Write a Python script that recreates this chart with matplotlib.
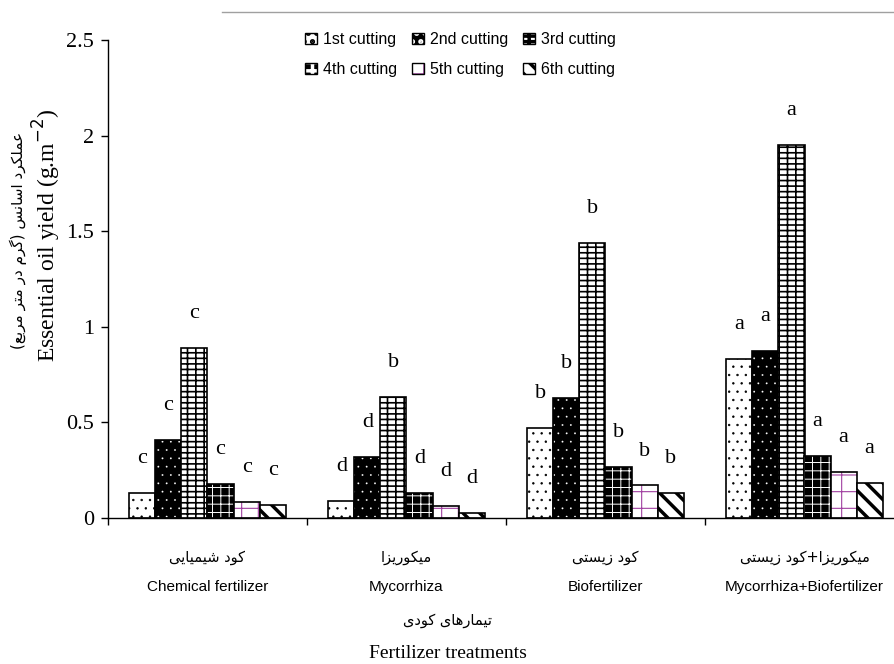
import matplotlib
matplotlib.use('Agg')
import matplotlib.pyplot as plt
import numpy as np
from matplotlib.patches import Patch
from matplotlib.lines import Line2D

# data
groups_en = ['Chemical fertilizer', 'Mycorrhiza', 'Biofertilizer', 'Mycorrhiza+Biofertilizer']
groups_fa = ['کود شیمیایی', 'میکوریزا', 'کود زیستی', 'میکوریزا+کود زیستی']
cuttings = ['1st cutting', '2nd cutting', '3rd cutting', '4th cutting', '5th cutting', '6th cutting']
yield_1st = [0.13, 0.09, 0.47, 0.83]
yield_2nd = [0.41, 0.32, 0.63, 0.875]
yield_3rd = [0.89, 0.635, 1.44, 1.95]
yield_4th = [0.18, 0.13, 0.265, 0.325]
yield_5th = [0.085, 0.063, 0.17, 0.24]
yield_6th = [0.07, 0.025, 0.13, 0.185]
letters_1st = ['c', 'd', 'b', 'a']
letters_2nd = ['c', 'd', 'b', 'a']
letters_3rd = ['c', 'b', 'b', 'a']
letters_4th = ['c', 'd', 'b', 'a']
letters_5th = ['c', 'd', 'b', 'a']
letters_6th = ['c', 'd', 'b', 'a']
yticks = [0, 0.5, 1, 1.5, 2, 2.5]
ytick_labels = ['0', '0.5', '1', '1.5', '2', '2.5']

# minimal Persian shaping (matplotlib has no bidi / joining support)
FORMS = {
    'ا': ('\ufe8d', '\ufe8e'), 'د': ('\ufea9', '\ufeaa'), 'ر': ('\ufead', '\ufeae'),
    'ز': ('\ufeaf', '\ufeb0'), 'و': ('\ufeed', '\ufeee'),
    'ب': ('\ufe8f', '\ufe90', '\ufe91', '\ufe92'), 'ت': ('\ufe95', '\ufe96', '\ufe97', '\ufe98'),
    'س': ('\ufeb1', '\ufeb2', '\ufeb3', '\ufeb4'), 'ش': ('\ufeb5', '\ufeb6', '\ufeb7', '\ufeb8'),
    'ع': ('\ufec9', '\ufeca', '\ufecb', '\ufecc'), 'ل': ('\ufedd', '\ufede', '\ufedf', '\ufee0'),
    'م': ('\ufee1', '\ufee2', '\ufee3', '\ufee4'), 'ن': ('\ufee5', '\ufee6', '\ufee7', '\ufee8'),
    'ه': ('\ufee9', '\ufeea', '\ufeeb', '\ufeec'), 'ی': ('\ufbfc', '\ufbfd', '\ufbfe', '\ufbff'),
    'ک': ('\ufb8e', '\ufb8f', '\ufb90', '\ufb91'), 'گ': ('\ufb92', '\ufb93', '\ufb94', '\ufb95'),
}


def fa(text):
    out = []
    for i, ch in enumerate(text):
        if ch not in FORMS:
            out.append(ch)
            continue
        prev = text[i - 1] if i > 0 else ''
        nxt = text[i + 1] if i + 1 < len(text) else ''
        join_prev = prev in FORMS and len(FORMS[prev]) == 4
        join_next = len(FORMS[ch]) == 4 and nxt in FORMS
        f = FORMS[ch]
        if join_prev and join_next:
            out.append(f[3])
        elif join_prev:
            out.append(f[1])
        elif join_next:
            out.append(f[2])
        else:
            out.append(f[0])
    vis = ''.join(reversed(out))
    return vis.replace('(', '\0').replace(')', '(').replace('\0', ')')


series = [yield_1st, yield_2nd, yield_3rd, yield_4th, yield_5th, yield_6th]
letters = [letters_1st, letters_2nd, letters_3rd, letters_4th, letters_5th, letters_6th]
# face, hatch colour, hatch, hatch linewidth
styles = [('white', 'black', '..', 0.5),
          ('black', 'white', '..', 0.1),
          ('white', 'black', '---||', 1.2),
          ('black', 'white', '++', 0.7),
          ('white', '#a040a0', '+', 0.8),
          ('white', 'black', '\\\\', 2.5)]

serif = 'Liberation Serif'
sans = 'Liberation Sans'
plt.rcParams['font.family'] = ['DejaVu Sans']

fig = plt.figure(figsize=(8.95, 6.64), dpi=100)
ax = fig.add_axes([108 / 895, 146 / 664, 796 / 895, 478 / 664])

x = np.arange(len(groups_en))
width = 0.131
handles = []
for i, (vals, st) in enumerate(zip(series, styles)):
    face, hcol, hatch, hlw = st
    pos = x + (i - 2.5) * width
    plt.rcParams['hatch.linewidth'] = hlw
    bars = ax.bar(pos, vals, width, color=face, edgecolor=hcol, hatch=hatch, linewidth=0)
    for p in bars:
        if hasattr(p, 'set_hatch_linewidth'):
            p.set_hatch_linewidth(hlw)
    ax.bar(pos, vals, width, fill=False, edgecolor='black', linewidth=1.2)
    hp = Patch(facecolor=face, edgecolor=hcol, hatch=hatch, linewidth=0)
    if hasattr(hp, 'set_hatch_linewidth'):
        hp.set_hatch_linewidth(min(hlw, 1.2))
    handles.append((hp, Patch(fill=False, edgecolor='black', linewidth=1)))
    for xp, v, lt in zip(pos, vals, letters[i]):
        ax.text(xp, v + 0.18, lt, ha='center', va='center', fontsize=16, family=serif)

ax.set_xlim(-0.5, 3.5)
ax.set_ylim(0, 2.5)
ax.set_yticks(yticks)
ax.set_yticklabels(ytick_labels, family=serif, fontsize=16)
ax.set_xticks([-0.5, 0.5, 1.5, 2.5, 3.5])
ax.set_xticklabels([])
ax.tick_params(axis='both', direction='out', length=5, width=1, color='black')
ax.tick_params(axis='y', pad=5)
for s in ['top', 'right']:
    ax.spines[s].set_visible(False)
for s in ['left', 'bottom']:
    ax.spines[s].set_linewidth(1)

# category labels below the axis
for xi, en, fl in zip(x, groups_en, groups_fa):
    ax.text(xi, -0.082, fa(fl), transform=ax.get_xaxis_transform(), ha='center', va='center',
            fontsize=10.5, family='DejaVu Sans')
    ax.text(xi, -0.145, en, transform=ax.get_xaxis_transform(), ha='center', va='center',
            fontsize=11, family=sans)

fig.text(448 / 895, 1 - 620 / 664, fa('تیمارهای کودی'), ha='center', va='center',
         fontsize=10.5, family='DejaVu Sans')
fig.text(448 / 895, 1 - 653 / 664, 'Fertilizer treatments', ha='center', va='center',
         fontsize=14, family=serif)
fig.text(47 / 895, 1 - 235 / 664, 'Essential oil yield (g.m$^{-2}$)', rotation=90,
         ha='center', va='center', fontsize=17, family=serif)
fig.text(18 / 895, 1 - 240 / 664, fa('عملکرد اسانس (گرم در متر مربع)'), rotation=90,
         ha='center', va='center', fontsize=11, family='DejaVu Sans')

# grey rule at the top of the frame
fig.add_artist(Line2D([222 / 895, 1], [1 - 12 / 664] * 2, color='#a0a0a0', linewidth=1))

order = [0, 3, 1, 4, 2, 5]
fig.legend([handles[k] for k in order], [cuttings[k] for k in order], ncol=3,
           loc='upper left', bbox_to_anchor=(297 / 895, 1 - 24 / 664), frameon=False,
           prop={'family': sans, 'size': 11.5}, handlelength=0.75, handleheight=0.75,
           handletextpad=0.4, columnspacing=0.9, labelspacing=0.95, borderpad=0)

fig.savefig('out.png', dpi=100)
